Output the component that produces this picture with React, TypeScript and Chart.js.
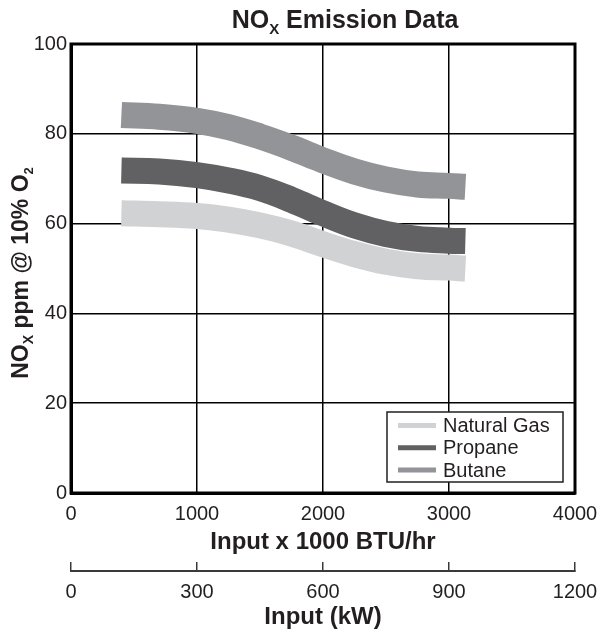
import React, { useEffect, useRef } from 'react';
import { Chart, registerables } from 'chart.js';

Chart.register(...registerables);

// ---- data ----
const btuInput = [400, 700, 1000, 1250, 1500, 1750, 2000, 2250, 2500, 2750, 3000, 3130];
const naturalGas = [62.3, 62.1, 61.7, 60.9, 59.6, 57.8, 55.4, 53.2, 51.5, 50.5, 50.2, 50.0];
const propane = [71.8, 71.6, 70.8, 69.6, 67.9, 65.3, 62.3, 59.6, 57.7, 56.6, 56.2, 56.1];
const butane = [84.2, 83.8, 82.9, 81.5, 79.4, 76.9, 74.1, 71.6, 69.8, 68.7, 68.4, 68.2];
const seriesLabels = ['Natural Gas', 'Propane', 'Butane'];
const seriesColors = ['#d1d2d4', '#616163', '#939498'];
const btuTicks = [0, 1000, 2000, 3000, 4000];
const kwTicks = [0, 300, 600, 900, 1200];
const ppmTicks = [0, 20, 40, 60, 80, 100];

const FONT = '"Liberation Sans", Arial, Helvetica, sans-serif';
const TEXT = '#231f20';

type Part = [string, number, number];

function drawParts(ctx: CanvasRenderingContext2D, parts: Part[], cx: number, baseline: number) {
  let total = 0;
  const widths = parts.map(([t, s]) => {
    ctx.font = `bold ${s}px ${FONT}`;
    const w = ctx.measureText(t).width;
    total += w;
    return w;
  });
  let x = cx - total / 2;
  ctx.textAlign = 'left';
  ctx.textBaseline = 'alphabetic';
  parts.forEach(([t, s, dy], i) => {
    ctx.font = `bold ${s}px ${FONT}`;
    ctx.fillText(t, x, baseline + dy);
    x += widths[i];
  });
}

const decorPlugin = {
  id: 'decor',
  afterDraw(chart: any) {
    const { ctx, chartArea: ca } = chart;
    ctx.save();
    // frame
    ctx.strokeStyle = '#000';
    ctx.lineWidth = 3;
    ctx.strokeRect(ca.left, ca.top, ca.right - ca.left, ca.bottom - ca.top);

    ctx.fillStyle = TEXT;
    // title
    drawParts(ctx, [['NO', 25, 0], ['X', 15, 6], [' Emission Data', 25, 0]], 345, 28);

    // y title
    ctx.save();
    ctx.translate(28, 273);
    ctx.rotate(-Math.PI / 2);
    drawParts(
      ctx,
      [['NO', 23, 0], ['X', 14, 5], [' ppm @ 10% O', 23, 0], ['2', 13, 5]],
      0,
      0
    );
    ctx.restore();

    // legend
    const boxR = ca.right - 12;
    const boxB = ca.bottom - 11;
    const boxW = 176;
    const boxH = 70;
    const boxL = boxR - boxW;
    const boxT = boxB - boxH;
    ctx.fillStyle = '#fff';
    ctx.fillRect(boxL, boxT, boxW, boxH);
    ctx.strokeStyle = '#231f20';
    ctx.lineWidth = 1.5;
    ctx.strokeRect(boxL, boxT, boxW, boxH);
    const ds = chart.data.datasets;
    ds.forEach((d: any, i: number) => {
      const y = boxT + 13.5 + i * 22.3;
      ctx.strokeStyle = d.borderColor;
      ctx.lineWidth = 5;
      ctx.beginPath();
      ctx.moveTo(boxL + 11, y);
      ctx.lineTo(boxL + 49, y);
      ctx.stroke();
      ctx.fillStyle = TEXT;
      ctx.font = `20px ${FONT}`;
      ctx.textAlign = 'left';
      ctx.textBaseline = 'middle';
      ctx.fillText(d.label, boxL + 56, y + 1);
    });
    ctx.restore();
  },
};

const plain = (v: any) => String(v);

export default function App() {
  const ref = useRef<HTMLCanvasElement | null>(null);

  useEffect(() => {
    document.body.style.margin = '0';
    const canvas = ref.current;
    if (!canvas) return;
    const seriesValues = [naturalGas, propane, butane];
    const chart = new Chart(canvas, {
      type: 'line',
      data: {
        datasets: seriesValues.map((vals, i) => ({
          label: seriesLabels[i],
          data: btuInput.map((x, j) => ({ x, y: vals[j] })),
          borderColor: seriesColors[i],
          backgroundColor: seriesColors[i],
          borderWidth: 26,
          borderCapStyle: 'butt',
          borderJoinStyle: 'round',
          pointRadius: 0,
          pointHoverRadius: 0,
          fill: false,
          tension: 0.4,
        })),
      },
      options: {
        animation: false,
        responsive: false,
        devicePixelRatio: 1,
        layout: { padding: { top: 44, right: 25, left: 0, bottom: 0 } },
        plugins: {
          legend: { display: false },
          title: { display: false },
          tooltip: { enabled: false },
        },
        scales: {
          x: {
            type: 'linear',
            position: 'bottom',
            weight: 0,
            z: 1,
            min: btuTicks[0],
            max: btuTicks[btuTicks.length - 1],
            ticks: {
              stepSize: btuTicks[1] - btuTicks[0],
              callback: plain,
              font: { size: 20, family: FONT },
              color: TEXT,
              padding: 9,
              maxRotation: 0,
            },
            grid: { color: '#000', lineWidth: 1.5, drawTicks: false },
            border: { display: true, color: '#000', width: 3 },
            title: {
              display: true,
              text: 'Input x 1000 BTU/hr',
              font: { size: 24, weight: 'bold', family: FONT },
              color: TEXT,
              padding: { top: 0, bottom: 14 },
            },
            afterFit: (s: any) => {
              s.height = 78;
              s.paddingLeft = 0;
              s.paddingRight = 0;
            },
          },
          x2: {
            type: 'linear',
            position: 'bottom',
            weight: 1,
            min: kwTicks[0],
            max: kwTicks[kwTicks.length - 1],
            ticks: {
              stepSize: kwTicks[1] - kwTicks[0],
              callback: plain,
              font: { size: 20, family: FONT },
              color: TEXT,
              padding: 18,
              maxRotation: 0,
            },
            grid: {
              display: true,
              drawOnChartArea: false,
              drawTicks: true,
              tickLength: -9,
              color: '#3a3a3a',
              lineWidth: 1.5,
            },
            border: { display: true, color: '#3a3a3a', width: 2 },
            title: {
              display: true,
              text: 'Input (kW)',
              font: { size: 24, weight: 'bold', family: FONT },
              color: TEXT,
              padding: { top: 0, bottom: -3 },
            },
            afterFit: (s: any) => {
              s.height = 58;
              s.paddingLeft = 0;
              s.paddingRight = 0;
            },
          },
          y: {
            type: 'linear',
            z: 1,
            min: ppmTicks[0],
            max: ppmTicks[ppmTicks.length - 1],
            ticks: {
              stepSize: ppmTicks[1] - ppmTicks[0],
              callback: plain,
              font: { size: 20, family: FONT },
              color: TEXT,
              padding: 4,
            },
            grid: { color: '#000', lineWidth: 1.5, drawTicks: false },
            border: { display: true, color: '#000', width: 3 },
            afterFit: (s: any) => {
              s.width = 71;
              s.paddingTop = 0;
              s.paddingBottom = 0;
            },
          },
        },
      },
      plugins: [decorPlugin],
    } as any);
    return () => chart.destroy();
  }, []);

  return (
    <div style={{ width: 600, height: 629 }}>
      <canvas ref={ref} width={600} height={629} style={{ display: 'block' }} />
    </div>
  );
}
